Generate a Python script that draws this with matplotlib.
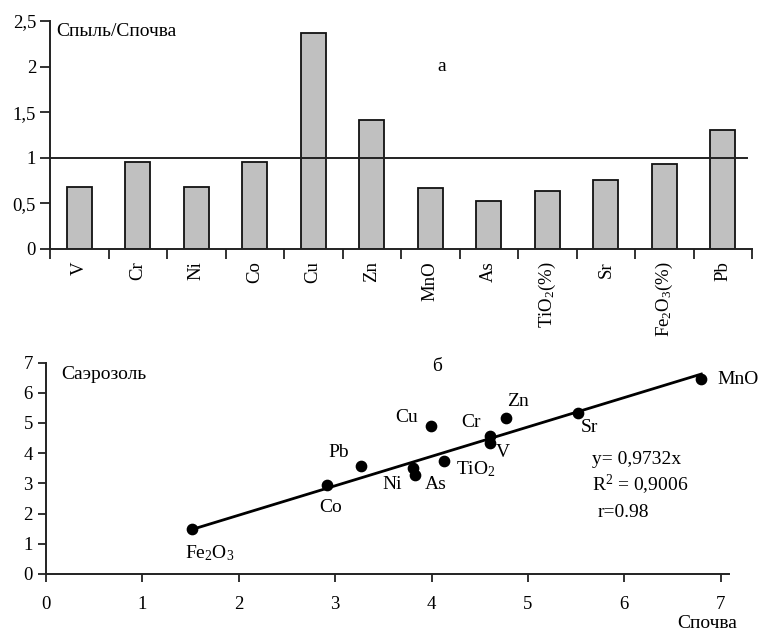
import matplotlib
matplotlib.use("Agg")
import matplotlib.pyplot as plt
import numpy as np
from matplotlib.ticker import FuncFormatter, FixedLocator

plt.rcParams['font.family'] = ['Liberation Serif', 'DejaVu Serif']
plt.rcParams['mathtext.fontset'] = 'custom'
plt.rcParams['mathtext.rm'] = 'Liberation Serif'
plt.rcParams['mathtext.it'] = 'Liberation Serif:italic'
plt.rcParams['mathtext.default'] = 'rm'

# ---- Data: panel a ----
bar_labels = ["V", "Cr", "Ni", "Co", "Cu", "Zn", "MnO", "As",
              "TiO$_2$(%)", "Sr", "Fe$_2$O$_3$(%)", "Pb"]
bar_values = [0.68, 0.95, 0.68, 0.95, 2.37, 1.41, 0.665, 0.53, 0.64, 0.76, 0.93, 1.31]
ref_level = 1.0
a_yticks = [0, 0.5, 1, 1.5, 2, 2.5]

# ---- Data: panel б ----
pt_names = ["Fe$_2$O$_3$", "Co", "Pb", "Cu", "Ni", "As", "TiO$_2$", "Cr", "V", "Zn", "Sr", "MnO"]
pt_soil = [1.51, 2.92, 3.27, 3.99, 3.81, 3.83, 4.13, 4.61, 4.61, 4.77, 5.52, 6.80]
pt_aerosol = [1.50, 2.93, 3.59, 4.89, 3.51, 3.29, 3.73, 4.58, 4.32, 5.17, 5.34, 6.47]
slope = 0.9732
b_ticks = [0, 1, 2, 3, 4, 5, 6, 7]

FS = 14
TFS = 13.5
edge = '#222222'

fig = plt.figure(figsize=(7.61, 6.30), dpi=100)

# ---------------- Panel a ----------------
ax1 = fig.add_axes([50/761, 1-249/630, (752-50)/761, (249-21)/630])
x = np.arange(len(bar_values))
ax1.bar(x, bar_values, width=0.43, color='#c0c0c0', edgecolor='#111111', linewidth=1.3, zorder=2)
ax1.axhline(ref_level, color='#222222', linewidth=1.4, xmin=0, xmax=(747-50)/(752-50), zorder=3)
ax1.set_xlim(-0.5, len(bar_values) - 0.5)
ax1.set_ylim(0, 2.5)
ax1.set_yticks(a_yticks)
ax1.yaxis.set_major_formatter(FuncFormatter(lambda v, p: f"{v:g}".replace('.', ',')))
ax1.xaxis.set_major_locator(FixedLocator(np.arange(-0.5, len(bar_values), 1.0)))
ax1.xaxis.set_major_formatter(FuncFormatter(lambda v, p: ""))
ax1.set_xticks(x, minor=True)
ax1.set_xticklabels(bar_labels, minor=True, rotation=90, fontsize=TFS)
ax1.tick_params(axis='x', which='minor', length=0, pad=9)
ax1.tick_params(axis='x', which='major', length=7, width=1.3, color=edge, direction='out')
ax1.tick_params(axis='y', length=7, width=1.3, color=edge, labelsize=TFS, pad=3)
for s in ['top', 'right']:
    ax1.spines[s].set_visible(False)
for s in ['left', 'bottom']:
    ax1.spines[s].set_color(edge)
    ax1.spines[s].set_linewidth(1.4)
ax1.text(-0.397, 2.38, "Спыль/Спочва", fontsize=FS, ha='left', va='center')
ax1.text(6.20, 2.0, "а", fontsize=FS, ha='center', va='center')

# ---------------- Panel б ----------------
ax2 = fig.add_axes([46/761, 1-574/630, (729.3-46)/761, (574-362.5)/630])
ax2.set_xlim(0, 7.09)
ax2.set_ylim(0, 7)
xs = np.array([min(pt_soil), max(pt_soil)])
ax2.plot(xs, slope * xs, color='black', linewidth=2.0, zorder=2)
ax2.scatter(pt_soil, pt_aerosol, s=55, color='black', zorder=3)
ax2.set_xticks(b_ticks)
ax2.set_yticks(b_ticks)
ax2.tick_params(axis='both', length=6, width=1.3, color=edge, labelsize=TFS)
ax2.tick_params(axis='x', pad=10)
for s in ['top', 'right']:
    ax2.spines[s].set_visible(False)
for s in ['left', 'bottom']:
    ax2.spines[s].set_color(edge)
    ax2.spines[s].set_linewidth(1.4)

offsets = [(18, -24), (3, -22), (-22, 13), (-24, 9), (-21, -17), (21, -10),
           (32, -8), (-19, 13), (13, -9), (12, 16), (11, -15), (37, -1)]
for name, xv, yv, off in zip(pt_names, pt_soil, pt_aerosol, offsets):
    ax2.annotate(name, (xv, yv), xytext=off, textcoords='offset pixels',
                 ha='center', va='center', fontsize=FS)

ax2.text(5.67, 3.79, "y= 0,9732x", fontsize=FS, ha='left', va='center')
ax2.text(5.67, 2.96, "R$^2$ = 0,9006", fontsize=FS, ha='left', va='center')
ax2.text(5.72, 2.03, "r=0.98", fontsize=FS, ha='left', va='center')
ax2.text(0.16, 6.61, "Саэрозоль", fontsize=FS, ha='left', va='center')
ax2.text(4.06, 6.88, "б", fontsize=FS, ha='center', va='center')
fig.text(707/761, 1-623/630, "Спочва", fontsize=FS, ha='center', va='center')

fig.savefig("out.png", dpi=100)
